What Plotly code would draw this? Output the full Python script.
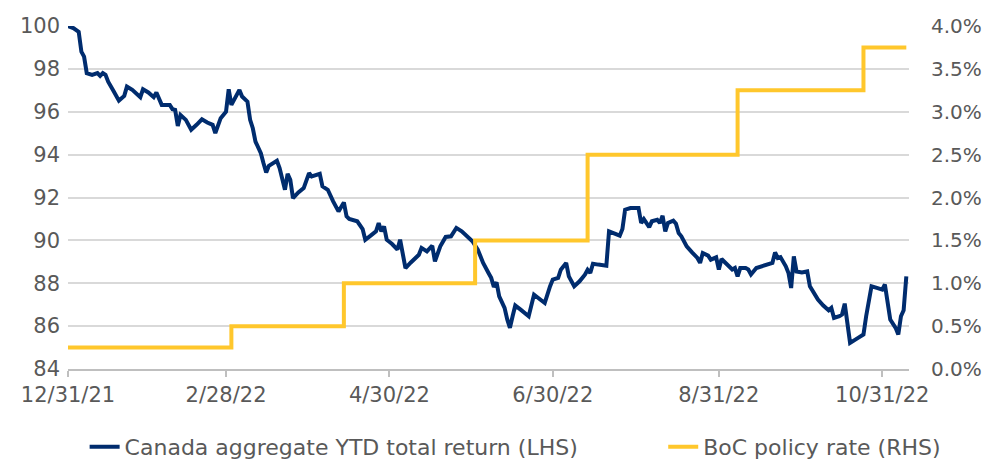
import plotly.graph_objects as go

# ---- Data ----
ret_dates = [
    "2021-12-31", "2022-01-02", "2022-01-04", "2022-01-05", "2022-01-06", "2022-01-07", "2022-01-09",
    "2022-01-11", "2022-01-12", "2022-01-13", "2022-01-14", "2022-01-15", "2022-01-17", "2022-01-19",
    "2022-01-21", "2022-01-22", "2022-01-24", "2022-01-25", "2022-01-27", "2022-01-28", "2022-01-30",
    "2022-02-01", "2022-02-02", "2022-02-04", "2022-02-06", "2022-02-07", "2022-02-08", "2022-02-09",
    "2022-02-10", "2022-02-11", "2022-02-13", "2022-02-15", "2022-02-17", "2022-02-19", "2022-02-21",
    "2022-02-23", "2022-02-24", "2022-02-25", "2022-02-26", "2022-02-28", "2022-03-01", "2022-03-02",
    "2022-03-03", "2022-03-05", "2022-03-06", "2022-03-08", "2022-03-09", "2022-03-10", "2022-03-11",
    "2022-03-13", "2022-03-14", "2022-03-15", "2022-03-16", "2022-03-19", "2022-03-20", "2022-03-21",
    "2022-03-22", "2022-03-23", "2022-03-24", "2022-03-25", "2022-03-27", "2022-03-29", "2022-03-31",
    "2022-04-01", "2022-04-04", "2022-04-05", "2022-04-07", "2022-04-09", "2022-04-11", "2022-04-13",
    "2022-04-14", "2022-04-15", "2022-04-18", "2022-04-20", "2022-04-21", "2022-04-23", "2022-04-25",
    "2022-04-26", "2022-04-27", "2022-04-28", "2022-04-29", "2022-05-01", "2022-05-03", "2022-05-04",
    "2022-05-05", "2022-05-06", "2022-05-08", "2022-05-10", "2022-05-11", "2022-05-12", "2022-05-14",
    "2022-05-16", "2022-05-17", "2022-05-19", "2022-05-21", "2022-05-23", "2022-05-25", "2022-05-27",
    "2022-05-29", "2022-05-31", "2022-06-02", "2022-06-04", "2022-06-06", "2022-06-07", "2022-06-08",
    "2022-06-09", "2022-06-10", "2022-06-12", "2022-06-13", "2022-06-14", "2022-06-15", "2022-06-16",
    "2022-06-18", "2022-06-21", "2022-06-23", "2022-06-25", "2022-06-27", "2022-06-29", "2022-06-30",
    "2022-07-02", "2022-07-03", "2022-07-05", "2022-07-06", "2022-07-08", "2022-07-10", "2022-07-12",
    "2022-07-13", "2022-07-14", "2022-07-15", "2022-07-17", "2022-07-20", "2022-07-21", "2022-07-23",
    "2022-07-25", "2022-07-26", "2022-07-27", "2022-07-29", "2022-08-01", "2022-08-02", "2022-08-03",
    "2022-08-05", "2022-08-06", "2022-08-08", "2022-08-09", "2022-08-10", "2022-08-11", "2022-08-12",
    "2022-08-14", "2022-08-15", "2022-08-16", "2022-08-17", "2022-08-19", "2022-08-21", "2022-08-23",
    "2022-08-24", "2022-08-25", "2022-08-27", "2022-08-28", "2022-08-30", "2022-08-31", "2022-09-01",
    "2022-09-03", "2022-09-05", "2022-09-06", "2022-09-07", "2022-09-08", "2022-09-10", "2022-09-11",
    "2022-09-12", "2022-09-14", "2022-09-16", "2022-09-19", "2022-09-20", "2022-09-21", "2022-09-22",
    "2022-09-23", "2022-09-25", "2022-09-26", "2022-09-27", "2022-09-28", "2022-09-29", "2022-10-01",
    "2022-10-03", "2022-10-04", "2022-10-07", "2022-10-09", "2022-10-11", "2022-10-12", "2022-10-13",
    "2022-10-15", "2022-10-16", "2022-10-17", "2022-10-18", "2022-10-19", "2022-10-22", "2022-10-24",
    "2022-10-25", "2022-10-27", "2022-10-29", "2022-10-31", "2022-11-01", "2022-11-02", "2022-11-03",
    "2022-11-05", "2022-11-06", "2022-11-07", "2022-11-08", "2022-11-09",
]
ret_values = [
    100.0, 99.9, 99.73, 98.8, 98.57, 97.8, 97.72,
    97.8, 97.67, 97.8, 97.72, 97.4, 96.97, 96.52,
    96.74, 97.17, 97.02, 96.9, 96.68, 97.05, 96.9,
    96.68, 96.9, 96.32, 96.29, 96.32, 96.12, 96.09,
    95.34, 95.85, 95.62, 95.16, 95.39, 95.65, 95.5,
    95.39, 95.0, 95.39, 95.7, 96.0, 97.05, 96.32,
    96.59, 97.02, 96.71, 96.47, 95.62, 95.23, 94.61,
    94.07, 93.6, 93.17, 93.48, 93.71, 93.37, 92.9,
    92.36, 93.1, 92.83, 91.97, 92.24, 92.44, 93.14,
    92.98, 93.1, 92.52, 92.36, 91.82, 91.35, 91.77,
    91.12, 91.0, 90.89, 90.53, 90.03, 90.22, 90.42,
    90.81, 90.42, 90.65, 90.03, 89.83, 89.57, 90.03,
    89.41, 88.71, 88.97, 89.22, 89.33, 89.65, 89.49,
    89.75, 89.02, 89.72, 90.16, 90.19, 90.58, 90.42,
    90.19, 89.96, 89.57, 88.95, 88.48, 88.25, 87.83,
    88.04, 87.39, 86.85, 86.31, 85.92, 86.46, 86.96,
    86.77, 86.46, 87.47, 87.27, 87.08, 87.86, 88.17,
    88.25, 88.63, 88.95, 88.32, 87.86, 88.09, 88.4,
    88.63, 88.48, 88.91, 88.87, 88.82, 90.42, 90.34,
    90.22, 90.53, 91.43, 91.51, 91.51, 90.81, 90.99,
    90.62, 90.89, 90.96, 90.81, 91.15, 90.42, 90.81,
    90.92, 90.78, 90.34, 90.19, 89.72, 89.44, 89.18,
    88.95, 89.41, 89.29, 89.1, 89.21, 88.64, 89.13,
    88.87, 88.64, 88.71, 88.32, 88.71, 88.71, 88.64,
    88.41, 88.71, 88.79, 88.92, 88.95, 89.44, 89.18,
    89.22, 88.79, 88.48, 87.78, 89.25, 88.55, 88.5,
    88.55, 87.86, 87.24, 86.96, 86.74, 86.85, 86.38,
    86.46, 86.54, 87.05, 86.23, 85.22, 85.45, 85.61,
    86.46, 87.86, 87.78, 87.7, 87.94, 87.16, 86.31,
    85.92, 85.61, 86.46, 86.74, 88.32,
]

boc_dates = ["2021-12-31", "2022-03-02", "2022-04-13", "2022-06-01",
             "2022-07-13", "2022-09-07", "2022-10-24", "2022-11-09"]
boc_rates = [0.25, 0.50, 1.00, 1.50, 2.50, 3.25, 3.75, 3.75]

x_tick_vals = ["2021-12-31", "2022-02-28", "2022-04-30", "2022-06-30", "2022-08-31", "2022-10-31"]
x_tick_text = ["12/31/21", "2/28/22", "4/30/22", "6/30/22", "8/31/22", "10/31/22"]

left_ticks = [84, 86, 88, 90, 92, 94, 96, 98, 100]
right_ticks = [0.0, 0.5, 1.0, 1.5, 2.0, 2.5, 3.0, 3.5, 4.0]
right_tick_text = ["0.0%", "0.5%", "1.0%", "1.5%", "2.0%", "2.5%", "3.0%", "3.5%", "4.0%"]

NAVY = "#002C6E"
GOLD = "#FFC72C"
TXT = "#595959"
GRID = "#D9D9D9"
FONT = "DejaVu Sans"

fig = go.Figure()
fig.add_trace(go.Scatter(
    x=ret_dates, y=ret_values, mode="lines",
    name="Canada aggregate YTD total return (LHS)",
    line=dict(color=NAVY, width=4),
    legend="legend",
))
fig.add_trace(go.Scatter(
    x=boc_dates, y=boc_rates, mode="lines",
    name="BoC policy rate (RHS)",
    line=dict(color=GOLD, width=4, shape="hv"),
    yaxis="y2",
    legend="legend2",
))

fig.update_layout(
    width=984, height=459,
    margin=dict(l=68, r=75, t=26, b=90, autoexpand=False),
    paper_bgcolor="white", plot_bgcolor="white",
    font=dict(family=FONT, size=21, color=TXT),
    xaxis=dict(
        type="date",
        range=["2021-12-31", "2022-11-10"],
        tickmode="array", tickvals=x_tick_vals, ticktext=x_tick_text,
        showgrid=False, showline=True, linecolor="#BFBFBF", linewidth=1.5,
        ticks="outside", ticklen=6, tickcolor="#BFBFBF", tickwidth=1.5,
        ticklabelstandoff=0,
        tickfont=dict(family=FONT, size=21, color=TXT),
        zeroline=False, automargin=False,
    ),
    yaxis=dict(
        range=[84, 100], tickmode="array", tickvals=left_ticks,
        showgrid=True, gridcolor=GRID, gridwidth=1.5,
        zeroline=False, showline=False, ticks="",
        ticklabelstandoff=7, automargin=False,
        tickfont=dict(family=FONT, size=21, color=TXT),
    ),
    yaxis2=dict(
        range=[0, 4], overlaying="y", side="right",
        tickmode="array", tickvals=right_ticks, ticktext=right_tick_text,
        showgrid=False, zeroline=False, showline=False, ticks="",
        ticklabelstandoff=21, automargin=False,
        tickfont=dict(family=FONT, size=20, color=TXT),
    ),
    legend=dict(
        orientation="h", xref="container", yref="container",
        x=0.086, xanchor="left", y=0.026, yanchor="middle",
        font=dict(family=FONT, size=22, color=TXT), bgcolor="rgba(0,0,0,0)",
    ),
    legend2=dict(
        orientation="h", xref="container", yref="container",
        x=0.674, xanchor="left", y=0.026, yanchor="middle",
        font=dict(family=FONT, size=22, color=TXT), bgcolor="rgba(0,0,0,0)",
    ),
    showlegend=True,
)

fig.write_html(
    "out.html",
    config={"displayModeBar": False},
    post_script="document.body.style.margin='0';document.body.style.overflow='hidden';",
)
